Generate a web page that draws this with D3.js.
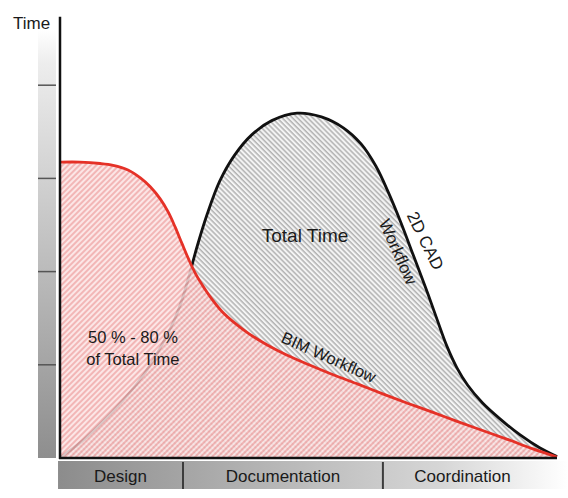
<!DOCTYPE html>
<html>
<head>
<meta charset="utf-8">
<script src="https://cdn.jsdelivr.net/npm/d3@7"></script>
<style>
  html, body { margin: 0; padding: 0; background: #fff; }
  svg { display: block; }
  text { font-family: "Liberation Sans", Arial, Helvetica, sans-serif; fill: #1a1a1a; }
</style>
</head>
<body>
<svg id="chart" width="568" height="498"></svg>
<script>
// ---- data ----
const phaseNames = ["Design", "Documentation", "Coordination"];
const phaseStart = [-0.6, 24.6, 64.9];
const phaseEnd   = [24.6, 64.9, 97.0];
const yTicks = [20, 40, 60, 80];

// BIM workflow (red) time curve
const bimX = [0, 3.8, 7.9, 10.5, 13.5, 16.0, 18.0, 20.0, 21.6, 23.0, 24.4, 25.8, 27.2, 28.8, 30.5, 32.5, 35.0, 38.0, 41.5, 45.5, 50.0, 55.0, 60.0, 65.0, 70.0, 75.0, 80.0, 85.0, 90.0, 95.0, 100];
const bimY = [63.5, 63.5, 63.2, 62.8, 61.8, 60.1, 58.2, 55.6, 52.8, 49.6, 46.0, 42.5, 39.4, 36.6, 34.0, 31.4, 29.0, 26.6, 24.3, 22.1, 20.0, 17.8, 15.8, 13.7, 11.7, 9.8, 7.8, 5.9, 4.0, 2.0, 0.2];

// 2D CAD workflow (black) time curve
const cadX = [0, 4.0, 8.0, 12.0, 15.5, 18.5, 21.0, 23.0, 24.6, 26.0, 27.5, 29.5, 32.0, 35.0, 38.5, 42.5, 47.6, 52.5, 57.0, 60.5, 63.5, 66.0, 68.5, 71.0, 73.5, 75.8, 77.8, 79.8, 82.0, 85.0, 88.5, 92.5, 96.5, 100];
const cadY = [0.2, 3.4, 7.4, 11.8, 16.2, 20.8, 25.6, 30.0, 34.6, 39.8, 45.6, 52.4, 59.4, 65.0, 69.4, 72.4, 74.0, 73.2, 70.8, 67.4, 62.6, 57.0, 50.6, 43.6, 36.6, 29.8, 24.0, 19.4, 15.6, 11.8, 8.4, 5.0, 2.2, 0.3];

const labels = {
  yTitle: "Time",
  total: "Total Time",
  share: ["50 % - 80 %", "of Total Time"],
  cad: ["2D CAD", "Workflow"],
  bim: "BIM Workflow"
};

// ---- drawing ----
const svg = d3.select("#chart");
const x = d3.scaleLinear().domain([0, 100]).range([61, 557]);
const y = d3.scaleLinear().domain([0, 100]).range([458, -8]);

const defs = svg.append("defs");

// hatch patterns
const pr = defs.append("pattern").attr("id", "hatchRed")
  .attr("patternUnits", "userSpaceOnUse").attr("width", 4).attr("height", 4)
  .attr("patternTransform", "rotate(45)");
pr.append("rect").attr("width", 4).attr("height", 4).attr("fill", "#fbe2e2");
pr.append("line").attr("x1", 1).attr("y1", 0).attr("x2", 1).attr("y2", 4)
  .attr("stroke", "#eb8c8c").attr("stroke-width", 1.3);

const pg = defs.append("pattern").attr("id", "hatchGray")
  .attr("patternUnits", "userSpaceOnUse").attr("width", 3.6).attr("height", 3.6)
  .attr("patternTransform", "rotate(-45)");
pg.append("rect").attr("width", 3.6).attr("height", 3.6).attr("fill", "#f4f4f4");
pg.append("line").attr("x1", 1).attr("y1", 0).attr("x2", 1).attr("y2", 3.6)
  .attr("stroke", "#9a9a9a").attr("stroke-width", 1.1);

// gradients
const gv = defs.append("linearGradient").attr("id", "gradV")
  .attr("x1", 0).attr("y1", 0).attr("x2", 0).attr("y2", 1);
gv.append("stop").attr("offset", "0%").attr("stop-color", "#ffffff");
gv.append("stop").attr("offset", "8%").attr("stop-color", "#ededed");
gv.append("stop").attr("offset", "100%").attr("stop-color", "#8e8e8e");

const gh = defs.append("linearGradient").attr("id", "gradH")
  .attr("x1", 0).attr("y1", 0).attr("x2", 1).attr("y2", 0);
gh.append("stop").attr("offset", "0%").attr("stop-color", "#8c8c8c");
gh.append("stop").attr("offset", "45%").attr("stop-color", "#b9b9b9");
gh.append("stop").attr("offset", "75%").attr("stop-color", "#d6d6d6");
gh.append("stop").attr("offset", "100%").attr("stop-color", "#ffffff");

// left gradient bar with ticks
svg.append("rect")
  .attr("x", x(0) - 23).attr("y", y(92)).attr("width", 18).attr("height", y(0) - y(92))
  .attr("fill", "url(#gradV)");
svg.selectAll(".ytick").data(yTicks).join("line")
  .attr("class", "ytick")
  .attr("x1", x(0) - 23).attr("x2", x(0) - 5)
  .attr("y1", d => y(d)).attr("y2", d => y(d))
  .attr("stroke", "#555").attr("stroke-width", 1.5);

// bottom phase bar
svg.append("rect")
  .attr("x", x(phaseStart[0])).attr("y", y(0) + 3)
  .attr("width", 568 - x(phaseStart[0])).attr("height", 28)
  .attr("fill", "url(#gradH)");
svg.selectAll(".divider").data(phaseStart.slice(1)).join("line")
  .attr("class", "divider")
  .attr("x1", d => x(d)).attr("x2", d => x(d))
  .attr("y1", y(0) + 4).attr("y2", y(0) + 31)
  .attr("stroke", "#3c3c3c").attr("stroke-width", 2);
svg.selectAll(".phase").data(phaseNames).join("text")
  .attr("class", "phase")
  .attr("x", (d, i) => x((phaseStart[i] + phaseEnd[i]) / 2))
  .attr("y", y(0) + 24)
  .attr("text-anchor", "middle")
  .attr("font-size", 17)
  .text(d => d);

// series
const cad = cadX.map((v, i) => [v, cadY[i]]);
const bim = bimX.map((v, i) => [v, bimY[i]]);
const curve = d3.curveCatmullRom.alpha(0.5);

const area = d3.area().x(d => x(d[0])).y0(y(0)).y1(d => y(d[1])).curve(curve);
const line = d3.line().x(d => x(d[0])).y(d => y(d[1])).curve(curve);

svg.append("path").datum(cad).attr("d", area).attr("fill", "url(#hatchGray)");
svg.append("path").datum(cad).attr("d", line)
  .attr("fill", "none").attr("stroke", "#111").attr("stroke-width", 2.8);

svg.append("path").datum(bim).attr("d", area)
  .attr("fill", "url(#hatchRed)").attr("opacity", 0.86);
svg.append("path").datum(bim).attr("d", line)
  .attr("fill", "none").attr("stroke", "#e53127").attr("stroke-width", 2.8);

// axes
svg.append("line")
  .attr("x1", x(0) - 1).attr("x2", x(0) - 1).attr("y1", y(94.7)).attr("y2", y(0) + 1)
  .attr("stroke", "#111").attr("stroke-width", 2.5);
svg.append("line")
  .attr("x1", x(0) - 2).attr("x2", x(100)).attr("y1", y(0)).attr("y2", y(0))
  .attr("stroke", "#111").attr("stroke-width", 2.5);

// texts
svg.append("text").attr("x", 13).attr("y", 29).attr("font-size", 17).text(labels.yTitle);

svg.append("text").attr("x", x(49.2)).attr("y", y(46.4))
  .attr("text-anchor", "middle").attr("font-size", 19).text(labels.total);

svg.selectAll(".share").data(labels.share).join("text")
  .attr("class", "share")
  .attr("x", x(14.5)).attr("y", (d, i) => y(24.6) + i * 21.5)
  .attr("text-anchor", "middle").attr("font-size", 16.5).text(d => d);

const cadPos = [[73.4, 46.6], [67.9, 44.2]];
const cadAng = [64, 66];
svg.selectAll(".cad").data(labels.cad).join("text")
  .attr("class", "cad")
  .attr("transform", (d, i) => `translate(${x(cadPos[i][0])},${y(cadPos[i][1])}) rotate(${cadAng[i]})`)
  .attr("text-anchor", "middle").attr("dominant-baseline", "central")
  .attr("font-size", 17).text(d => d);

svg.append("text")
  .attr("transform", `translate(${x(54.0)},${y(21.7)}) rotate(24)`)
  .attr("text-anchor", "middle").attr("dominant-baseline", "central")
  .attr("font-size", 16.5).text(labels.bim);
</script>
</body>
</html>
